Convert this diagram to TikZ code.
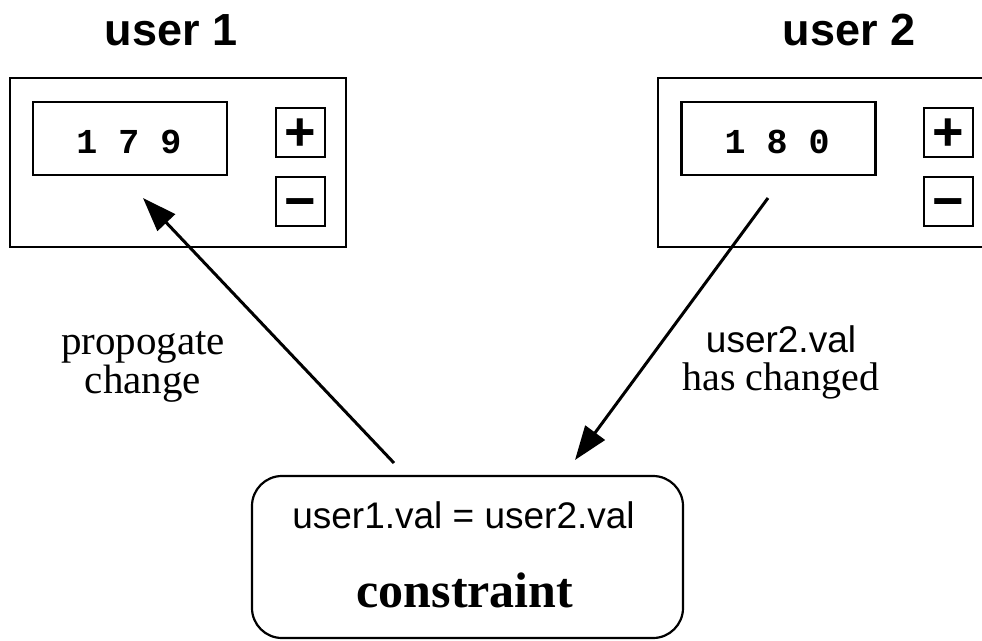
\documentclass[tikz,border=0pt]{standalone}
\usepackage{fontspec}
\setmainfont{Liberation Serif}
\setsansfont{Liberation Sans}
\setmonofont{Liberation Mono}
\usetikzlibrary{arrows.meta}
\tikzset{
  panel/.style={draw, line width=2.2pt, rectangle, inner sep=0pt, minimum width=336pt, minimum height=169pt},
  display/.style={draw, line width=2.2pt, rectangle, inner sep=0pt, minimum width=194pt, minimum height=73pt},
  btn/.style={draw, line width=2.2pt, rectangle, inner sep=0pt, minimum width=49pt, minimum height=49pt},
  digits/.style={inner sep=0pt, font=\ttfamily\bfseries\fontsize{35}{40}\selectfont},
  sign/.style={inner sep=0pt, anchor=base, font=\sffamily\bfseries\fontsize{54}{54}\selectfont},
  title/.style={inner sep=0pt, anchor=base, font=\sffamily\bfseries\fontsize{45}{50}\selectfont},
  cbox/.style={draw, line width=2.2pt, rectangle, rounded corners=30pt, inner sep=0pt, minimum width=431pt, minimum height=162pt},
  arr/.style={line width=3pt, -{Triangle[length=34pt,width=24pt]}},
}
\begin{document}
\begin{tikzpicture}[x=1pt,y=-1pt]
\useasboundingbox (0,0) rectangle (982,640);
% titles
\node[title] (t1) at (171,45) {user 1};
\node[title] (t2) at (849,45) {user 2};
% panel 1
\node[panel] (p1) at (178,162.5) {};
\node[display] (d1) at (130,138.5) {};
\node[digits] (n1) at (129,142) {1 7 9};
\node[btn] (plus1) at (300.5,132.5) {};
\node[btn] (minus1) at (300.5,201.5) {};
\node[sign] (ps1) at (300.5,150) {+};
\node[sign] (ms1) at (300.5,219) {−};
% panel 2
\node[panel] (p2) at (826,162.5) {};
\node[display] (d2) at (778.5,138.5) {};
\node[digits] (n2) at (777,142) {1 8 0};
\node[btn] (plus2) at (948.5,132.5) {};
\node[btn] (minus2) at (948.5,201.5) {};
\node[sign] (ps2) at (948.5,150) {+};
\node[sign] (ms2) at (948.5,219) {−};
% constraint
\node[cbox] (c) at (467.5,557) {};
\node[inner sep=0pt, anchor=base, font=\sffamily\fontsize{37}{40}\selectfont] (eq) at (463.5,528) {user1.val = user2.val};
\node[inner sep=0pt, anchor=base, font=\bfseries\fontsize{50}{55}\selectfont] (cl) at (465,607) {constraint};
% labels
\node[inner sep=0pt, align=center, font=\fontsize{41}{33}\selectfont] (l1) at (143,367) {propogate\\change};
\node[inner sep=0pt, align=center, font=\fontsize{40}{38}\selectfont] (l2) at (781,362) {{\sffamily\fontsize{37}{38}\selectfont user2.val}\\has changed};
% arrows
\coordinate (a1s) at (394,463);
\coordinate (a1e) at (143,198);
\coordinate (a2s) at (768,198);
\coordinate (a2e) at (575,460);
\draw[arr] (a1s) -- (a1e);
\draw[arr] (a2s) -- (a2e);
\end{tikzpicture}
\end{document}
